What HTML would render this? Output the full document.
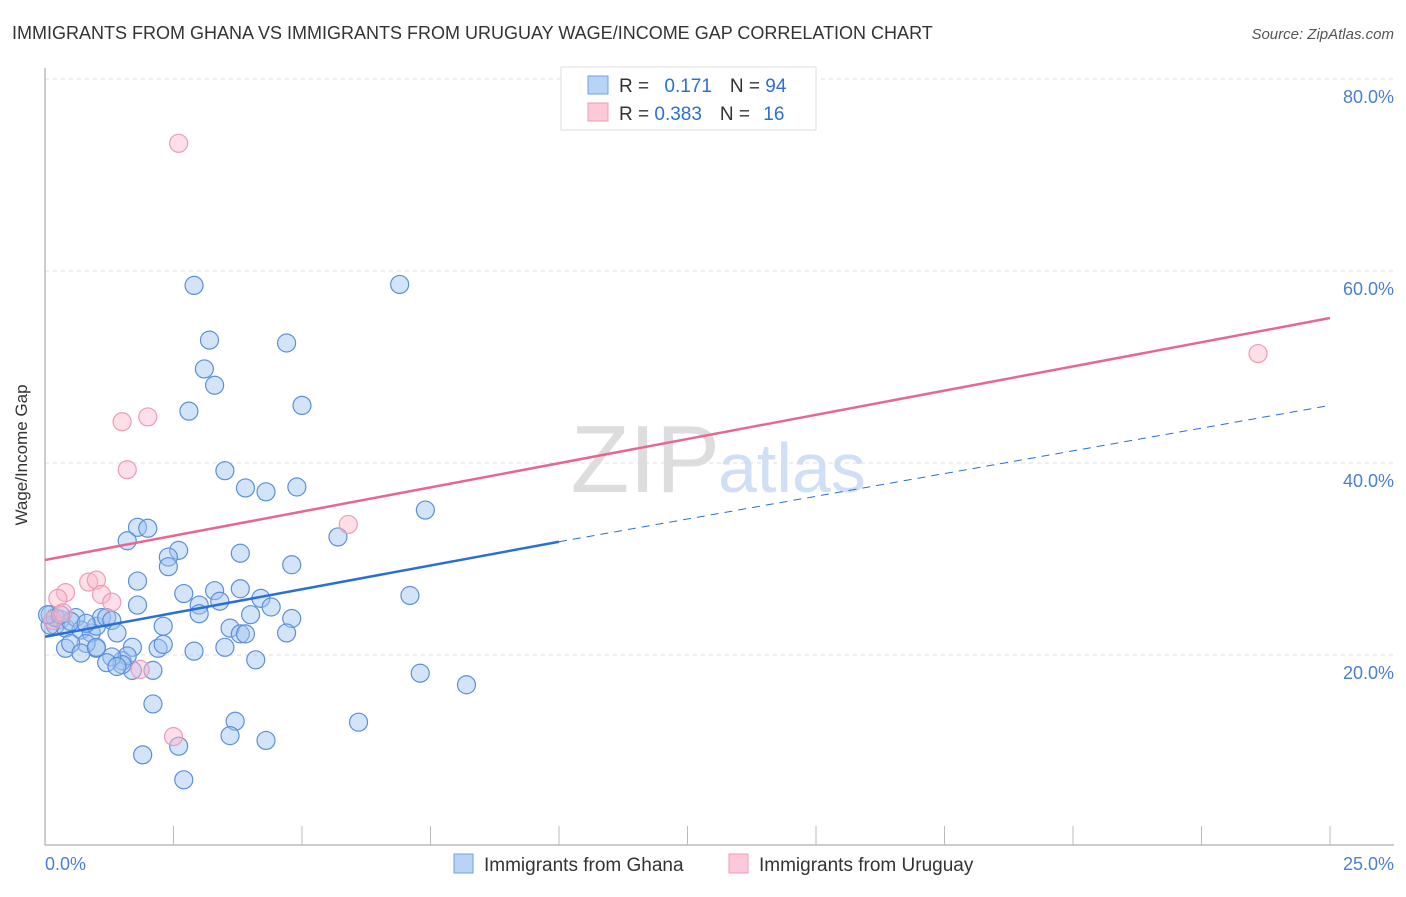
<!DOCTYPE html>
<html><head><meta charset="utf-8"><style>
body{margin:0;background:#fff;font-family:"Liberation Sans",sans-serif;}
svg text{font-family:"Liberation Sans",sans-serif;}
</style></head><body>
<svg width="1406" height="892" viewBox="0 0 1406 892">
<text x="12" y="39" font-size="18" fill="#333">IMMIGRANTS FROM GHANA VS IMMIGRANTS FROM URUGUAY WAGE/INCOME GAP CORRELATION CHART</text>
<text x="1394" y="39" font-size="15" fill="#555" font-style="italic" text-anchor="end">Source: ZipAtlas.com</text>
<text x="720" y="492" font-size="96" fill="#ddd" text-anchor="end" font-family="Liberation Serif">ZIP</text>
<text x="718" y="492" font-size="70" fill="#cfdff5">atlas</text>
<g id="grid"></g>
<g id="axes"></g>
<g id="pts"></g>
<g id="lines"></g>
<text x="27" y="455" font-size="17" fill="#333" text-anchor="middle" transform="rotate(-90 27 455)">Wage/Income Gap</text>
<text x="45" y="870" font-size="18" fill="#4a7fd4">0.0%</text>
<text x="1394" y="870" font-size="18" fill="#4a7fd4" text-anchor="end">25.0%</text>
<g>
<rect x="561" y="67" width="255" height="63" fill="#fff" stroke="#ddd"/>
<rect x="588" y="76" width="20" height="18" fill="#b8d3f5" stroke="#6f9fe0"/>
<rect x="588" y="103" width="20" height="18" fill="#fcc9d8" stroke="#f09ab5"/>
<text x="619" y="92" font-size="19" fill="#333">R = <tspan fill="#2a6fd6" dx="10">0.171</tspan><tspan dx="18" fill="#333">N = </tspan><tspan fill="#2a6fd6">94</tspan></text>
<text x="619" y="120" font-size="19" fill="#333">R = <tspan fill="#2a6fd6">0.383</tspan><tspan dx="18" fill="#333">N = </tspan><tspan fill="#2a6fd6" dx="8">16</tspan></text>
</g>
<g>
<rect x="454" y="854" width="19" height="19" fill="#b8d3f5" stroke="#6f9fe0"/>
<text x="484" y="871" font-size="19" fill="#333">Immigrants from Ghana</text>
<rect x="729" y="854" width="19" height="19" fill="#fcc9d8" stroke="#f09ab5"/>
<text x="759" y="871" font-size="19" fill="#333">Immigrants from Uruguay</text>
</g>
</svg>
<script>
const yTicks=[20,40,60,80];
const yTickLabels=["20.0%","40.0%","60.0%","80.0%"];
const xTicks=[0,2.5,5,7.5,10,12.5,15,17.5,20,22.5,25];
const ghanaX=[2.9,6.9,3.2,4.7,3.1,3.3,2.8,5.0,3.5,3.9,4.3,4.9,7.4,1.8,2.0,5.7,2.6,2.4,3.8,1.6,2.4,4.8,1.8,3.3,1.8,4.0,3.0,2.7,3.8,3.4,4.2,7.1,4.4,3.0,4.8,3.6,2.3,4.7,3.8,3.9,3.5,2.9,4.1,7.3,8.2,1.7,2.1,0.4,1.0,1.7,2.2,2.3,2.1,3.7,3.6,6.1,4.3,2.6,1.9,2.7,0.1,0.3,0.2,0.4,0.6,0.7,0.9,1.0,1.1,1.2,1.3,1.4,1.5,1.6,1.5,0.8,0.5,0.7,1.0,1.3,1.2,1.4,0.5,0.1,0.2,0.8,0.05,0.3];
const ghanaY=[58.5,58.6,52.8,52.5,49.8,48.1,45.4,46.0,39.2,37.4,37.0,37.5,35.1,33.3,33.2,32.3,30.9,30.2,30.6,31.9,29.2,29.4,27.7,26.7,25.2,24.2,25.2,26.4,26.9,25.6,25.9,26.2,25.0,24.3,23.8,22.8,23.0,22.3,22.2,22.2,20.8,20.4,19.5,18.1,16.9,18.4,18.4,20.7,20.7,20.8,20.7,21.1,14.9,13.1,11.6,13.0,11.1,10.5,9.6,7.0,24.2,23.7,23.1,22.8,23.9,22.6,22.3,23.0,23.9,23.9,23.6,22.3,19.4,19.9,19.0,21.2,21.2,20.2,20.8,19.8,19.2,18.8,23.5,23.1,23.9,23.3,24.2,24.2];
const uruguayX=[2.6,23.6,1.5,2.0,1.6,5.9,0.4,0.25,0.85,1.0,1.1,1.3,1.85,2.5,0.15,0.35];
const uruguayY=[73.3,51.4,44.3,44.8,39.3,33.6,26.5,25.9,27.6,27.8,26.3,25.5,18.5,11.5,23.6,24.4];
const trendX=[0,10,25];
const ghanaTrend=[21.9,31.8,46.0];
const uruguayTrend=[29.9,55.1];
const NS="http://www.w3.org/2000/svg";
const sx=v=>45+v*51.4, sy=v=>847-v*9.6;
function mk(t,a,p){const e=document.createElementNS(NS,t);for(const k in a)e.setAttribute(k,a[k]);p.appendChild(e);return e;}
const grid=document.getElementById('grid'),axes=document.getElementById('axes'),pts=document.getElementById('pts'),lines=document.getElementById('lines');
yTicks.forEach((t,i)=>{
 const l=mk('line',{x1:45,x2:1394,y1:sy(t),y2:sy(t),stroke:'#ddd','stroke-dasharray':'4,4'},grid);
 
 
 const tx=mk('text',{x:1394,y:sy(t)+24,'font-size':18,fill:'#4a7fd4','text-anchor':'end'},grid);
 tx.textContent=yTickLabels[i];
 
 
});
const ax=mk('line',{x1:45,x2:1394,y1:845,y2:845,stroke:'#bbb','stroke-width':1.5},axes);


const ay=mk('line',{x1:45,x2:45,y1:68,y2:845,stroke:'#bbb','stroke-width':1.5},axes);


xTicks.forEach(t=>{
 const l=mk('line',{x1:sx(t),x2:sx(t),y1:826,y2:845,stroke:'#bbb'},axes);
 
 
});
ghanaX.forEach((x,i)=>{
 const c=mk('circle',{cx:sx(x),cy:sy(ghanaY[i]),r:9,fill:'rgba(160,196,240,0.45)',stroke:'#5b8fdb','stroke-width':1.2},pts);
 
 
});
uruguayX.forEach((x,i)=>{
 const c=mk('circle',{cx:sx(x),cy:sy(uruguayY[i]),r:9,fill:'rgba(250,185,205,0.45)',stroke:'#ef9ab5','stroke-width':1.2},pts);
 
 
});
const gs=mk('line',{x1:sx(trendX[0]),y1:sy(ghanaTrend[0]),x2:sx(trendX[1]),y2:sy(ghanaTrend[1]),stroke:'#2a6fd6','stroke-width':2.5},lines);


const gd=mk('line',{x1:sx(trendX[1]),y1:sy(ghanaTrend[1]),x2:sx(trendX[2]),y2:sy(ghanaTrend[2]),stroke:'#2a6fd6','stroke-width':1,'stroke-dasharray':'8,6'},lines);


const ut=mk('line',{x1:sx(trendX[0]),y1:sy(uruguayTrend[0]),x2:sx(trendX[2]),y2:sy(uruguayTrend[1]),stroke:'#e8678f','stroke-width':2.5},lines);


</script>
</body></html>
